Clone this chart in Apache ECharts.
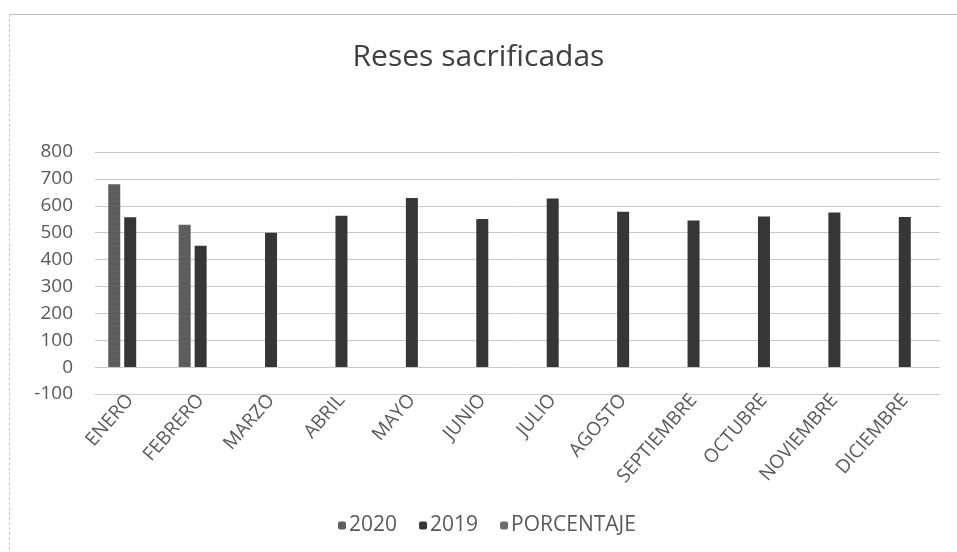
<!DOCTYPE html>
<html>
<head>
<meta charset="utf-8">
<script src="https://cdn.jsdelivr.net/npm/echarts@6/dist/echarts.min.js"></script>
<style>
html,body{margin:0;padding:0;background:#fff;}
#wrap{position:absolute;left:9px;top:14px;width:960px;height:545px;border-left:1px dashed #c8c8c8;border-top:1px solid #bdbdbd;}
#c{position:absolute;left:0;top:0;width:957px;height:552px;}
</style>
</head>
<body>
<div id="wrap"></div>
<div id="c"></div>
<script>
var categories = ['ENERO','FEBRERO','MARZO','ABRIL','MAYO','JUNIO','JULIO','AGOSTO','SEPTIEMBRE','OCTUBRE','NOVIEMBRE','DICIEMBRE'];
var values2020 = [680, 529, null, null, null, null, null, null, null, null, null, null];
var values2019 = [557, 451, 500, 563, 629, 551, 627, 578, 545, 560, 575, 558];
var valuesPorcentaje = [null, null, null, null, null, null, null, null, null, null, null, null];
var yMin = -100, yMax = 800, yStep = 100;

var chart = echarts.init(document.getElementById('c'));
var font = 'Open Sans, Noto Sans, sans-serif';
chart.setOption({
  animation: false,
  title: {
    text: 'Reses sacrificadas',
    left: 'center', top: 37,
    textStyle: {fontFamily: font, fontSize: 30, fontWeight: 'normal', color: '#404040'}
  },
  legend: {
    top: 510, left: 333,
    itemWidth: 8, itemHeight: 8, itemGap: 22,
    textStyle: {fontFamily: font, fontSize: 21, color: '#595959', padding: [0,0,0,-2]},
    data: ['2020','2019','PORCENTAJE']
  },
  grid: {left: 95, right: 17, top: 152, bottom: 158},
  xAxis: {
    type: 'category',
    data: categories,
    axisLine: {onZero: false, lineStyle: {color: '#d0d0d0'}},
    axisTick: {show: false},
    axisLabel: {rotate: 49, fontFamily: font, fontSize: 19, color: '#595959', interval: 0, margin: 3}
  },
  yAxis: {
    type: 'value', min: yMin, max: yMax, interval: yStep,
    axisLine: {show: false}, axisTick: {show: false},
    axisLabel: {fontFamily: font, fontSize: 19, color: '#595959', margin: 22},
    splitLine: {lineStyle: {color: '#c8c8c8', width: 1}}
  },
  series: [
    {name: '2020', type: 'bar', data: values2020, barWidth: 12, barGap: '33%', barCategoryGap: '37%',
     itemStyle: {color: '#5c5c5c', decal: {symbol: 'circle', symbolSize: 0.6, dashArrayX: [1,0], dashArrayY: [2,3], color: 'rgba(150,150,150,0.6)'}}},
    {name: '2019', type: 'bar', data: values2019, barWidth: 12, itemStyle: {color: '#363636'}},
    {name: 'PORCENTAJE', type: 'bar', data: valuesPorcentaje, barWidth: 12, itemStyle: {color: '#6e6e6e'}}
  ]
});
</script>
</body>
</html>
